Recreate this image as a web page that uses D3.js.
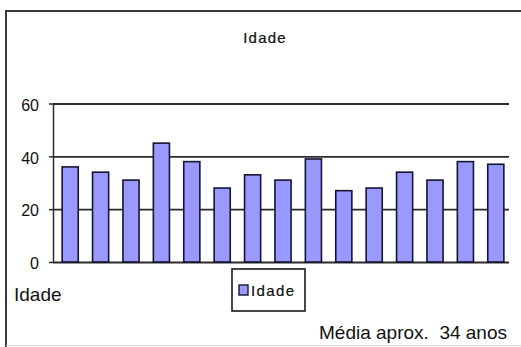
<!DOCTYPE html>
<html>
<head>
<meta charset="utf-8">
<script src="https://cdn.jsdelivr.net/npm/d3@7"></script>
<style>
  html, body { margin: 0; padding: 0; background: #fff; }
  svg { display: block; }
  text { font-family: "Liberation Sans", Arial, sans-serif; fill: #111; }
</style>
</head>
<body>
<svg id="chart" width="521" height="347"></svg>
<script>
// Ages of the 15 respondents
const respondents = ["1","2","3","4","5","6","7","8","9","10","11","12","13","14","15"];
const ages = [36, 34, 31, 45, 38, 28, 33, 31, 39, 27, 28, 34, 31, 38, 37];
const yTicks = [0, 20, 40, 60];
const seriesName = "Idade";
const chartTitle = "Idade";
const axisCaption = "Idade";

const svg = d3.select("#chart");

// frame around the chart (left/top dark, bottom faint)
svg.append("path")
  .attr("d", "M6,347 L6,11 L521,11")
  .attr("fill", "none").attr("stroke", "#3a3a3a").attr("stroke-width", 2);
svg.append("line").attr("x1", 6).attr("x2", 521).attr("y1", 345.5).attr("y2", 345.5)
  .attr("stroke", "#d6d6d6").attr("stroke-width", 1);

const plot = { left: 53, right: 509, top: 103.5, bottom: 262 };

const x = d3.scaleBand()
  .domain(respondents)
  .range([55, 511])
  .paddingInner(0.47)
  .paddingOuter(0.235);

const y = d3.scaleLinear()
  .domain([0, 60])
  .range([plot.bottom, plot.top]);

// horizontal gridlines
const grid = svg.append("g")
  .attr("transform", `translate(${plot.left},0)`)
  .call(d3.axisLeft(y).tickValues(yTicks).tickSize(-(plot.right - plot.left)).tickFormat(""));
grid.select(".domain").remove();
grid.selectAll(".tick line").attr("stroke", "#2b2b2b").attr("stroke-width", 1.8);

// y axis with labels
const yAxis = svg.append("g")
  .attr("transform", `translate(${plot.left},0)`)
  .call(d3.axisLeft(y).tickValues(yTicks).tickSize(4).tickPadding(10));
yAxis.select(".domain").attr("stroke", "#2b2b2b").attr("stroke-width", 1.5)
  .attr("d", `M0.5,${plot.top}V${plot.bottom}`);
yAxis.selectAll(".tick line").attr("stroke", "#2b2b2b").attr("stroke-width", 1.5);
yAxis.selectAll(".tick text")
  .attr("font-family", "'Liberation Sans', Arial, sans-serif")
  .attr("font-size", 16).attr("fill", "#222").attr("dy", "0.42em");

// bars
svg.append("g").selectAll("rect")
  .data(ages)
  .join("rect")
  .attr("x", (d, i) => x(respondents[i]))
  .attr("y", d => y(d))
  .attr("width", x.bandwidth())
  .attr("height", d => y(0) - y(d))
  .attr("fill", "#9999ff")
  .attr("stroke", "#141433")
  .attr("stroke-width", 1.6);

// title
svg.append("text")
  .attr("x", 265).attr("y", 43)
  .attr("text-anchor", "middle")
  .attr("font-size", 15).attr("letter-spacing", 1.2)
  .attr("fill", "#000").attr("stroke", "#000").attr("stroke-width", 0.2)
  .text(chartTitle);

// category axis caption
svg.append("text")
  .attr("x", 14).attr("y", 301)
  .attr("font-size", 19)
  .text(axisCaption);

// legend
const legend = svg.append("g");
legend.append("rect")
  .attr("x", 232).attr("y", 269).attr("width", 73).attr("height", 42)
  .attr("fill", "#fff").attr("stroke", "#1a1a1a").attr("stroke-width", 1.6);
legend.append("rect")
  .attr("x", 239).attr("y", 285).attr("width", 9).attr("height", 10)
  .attr("fill", "#9999ff").attr("stroke", "#141433").attr("stroke-width", 1.4);
legend.append("text")
  .attr("x", 251).attr("y", 296)
  .attr("font-size", 15).attr("letter-spacing", 1.4)
  .attr("fill", "#000").attr("stroke", "#000").attr("stroke-width", 0.2)
  .text(seriesName);

// average note
const avg = Math.round(d3.mean(ages));
svg.append("text")
  .attr("x", 507).attr("y", 339)
  .attr("text-anchor", "end")
  .attr("font-size", 19)
  .attr("xml:space", "preserve")
  .style("white-space", "pre")
  .text(`Média aprox.  ${avg} anos`);
</script>
</body>
</html>
